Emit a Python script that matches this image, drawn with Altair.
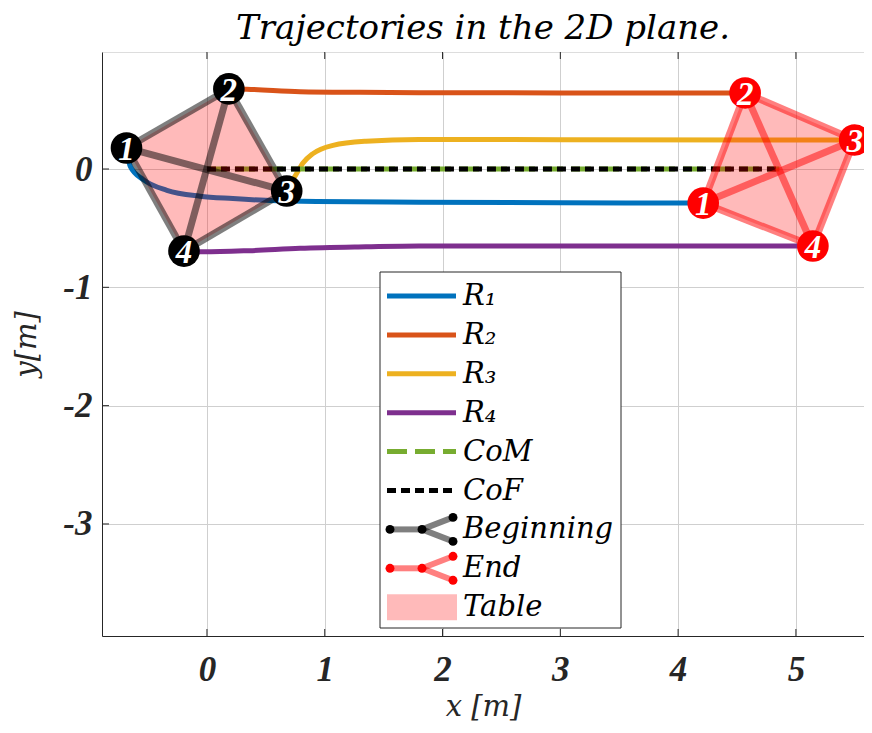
import altair as alt
import pandas as pd

# ---------------- data ----------------
robots = ["R1", "R2", "R3", "R4"]
robot_colors = ["#0072BD", "#D95319", "#EDB120", "#7E2F8E"]

r1_x = [-0.683, -0.65, -0.54, -0.34, -0.06, 0.22, 0.50, 0.93, 1.80, 3.00, 4.213]
r1_y = [0.178, 0.02, -0.09, -0.18, -0.23, -0.25, -0.265, -0.275, -0.28, -0.285, -0.288]
r2_x = [0.186, 0.34, 0.79, 1.30, 1.80, 3.00, 4.569]
r2_y = [0.677, 0.674, 0.654, 0.648, 0.645, 0.643, 0.643]
r3_x = [0.677, 0.76, 0.815, 0.90, 1.07, 1.35, 1.80, 3.00, 5.499]
r3_y = [-0.186, -0.04, 0.05, 0.13, 0.20, 0.235, 0.25, 0.248, 0.245]
r4_x = [-0.195, -0.03, 0.36, 0.79, 1.35, 1.80, 3.00, 5.144]
r4_y = [-0.694, -0.70, -0.69, -0.67, -0.657, -0.65, -0.651, -0.651]

center_x = [0.0, 4.86]
center_y = [0.0, 0.0]

robot_ids = ["1", "2", "3", "4"]
start_x = [-0.683, 0.186, 0.677, -0.195]
start_y = [0.178, 0.677, -0.186, -0.694]
end_x = [4.213, 4.569, 5.499, 5.144]
end_y = [-0.288, 0.643, 0.245, -0.651]
edges = [(1, 2), (2, 3), (3, 4), (4, 1), (1, 3), (2, 4)]

x_ticks = [0, 1, 2, 3, 4, 5]
y_ticks = [-3, -2, -1, 0]

legend_labels = ["R₁", "R₂", "R₃", "R₄", "CoM", "CoF", "Beginning", "End", "Table"]

# ---------------- layout ----------------
W, H = 762, 584
xs = alt.Scale(domain=[-0.891, 5.578], nice=False, zero=False)
ys = alt.Scale(domain=[-3.947, 0.989], nice=False, zero=False)

LABEL_FONT = "Liberation Serif"
SERIF_IT = "DejaVu Serif"

xaxis = alt.Axis(values=x_ticks, title="x [m]", grid=True, gridColor="#cfcfcf", gridWidth=1,
                 ticks=False, domainColor="#262626", domainWidth=1,
                 labelFont=LABEL_FONT, labelFontSize=35, labelFontStyle="italic",
                 labelFontWeight="bold", labelColor="#262626", labelPadding=16,
                 labelExpr="'' + datum.value",
                 titleFont=SERIF_IT, titleFontSize=29, titleFontStyle="italic",
                 titleFontWeight="normal", titleColor="#262626", titlePadding=5)
yaxis = alt.Axis(values=y_ticks, title="y[m]", grid=True, gridColor="#cfcfcf", gridWidth=1,
                 ticks=False, domainColor="#262626", domainWidth=1,
                 labelFont=LABEL_FONT, labelFontSize=35, labelFontStyle="italic",
                 labelFontWeight="bold", labelColor="#262626", labelPadding=10,
                 labelExpr="'' + datum.value",
                 titleFont=SERIF_IT, titleFontSize=29, titleFontStyle="italic",
                 titleFontWeight="normal", titleColor="#262626", titlePadding=21)


def X(f):
    return alt.X(f, type="quantitative", scale=xs, axis=xaxis)


def Y(f):
    return alt.Y(f, type="quantitative", scale=ys, axis=yaxis)


# trajectories table
rows = []
for name, xv, yv in zip(robots, [r1_x, r2_x, r3_x, r4_x], [r1_y, r2_y, r3_y, r4_y]):
    for i, (a, b) in enumerate(zip(xv, yv)):
        rows.append({"robot": name, "i": i, "x": a, "y": b})
traj_df = pd.DataFrame(rows)
center_df = pd.DataFrame({"x": center_x, "y": center_y, "i": [0, 1]})


def poly_df(px, py):
    return pd.DataFrame({"x": px, "y": py, "i": list(range(len(px)))})


def edge_df(px, py):
    r = []
    for k, (a, b) in enumerate(edges):
        r.append({"e": k, "i": 0, "x": px[a - 1], "y": py[a - 1]})
        r.append({"e": k, "i": 1, "x": px[b - 1], "y": py[b - 1]})
    return pd.DataFrame(r)


def node_df(px, py):
    return pd.DataFrame({"x": px, "y": py, "lab": robot_ids})


traj = alt.Chart(traj_df).mark_line(strokeWidth=5, strokeCap="butt", interpolate="monotone").encode(
    x=X("x"), y=Y("y"),
    color=alt.Color("robot:N", scale=alt.Scale(domain=robots, range=robot_colors), legend=None),
    detail="robot:N", order="i:Q")

com = alt.Chart(center_df).mark_line(strokeWidth=5, color="#77AC30", strokeDash=[20, 8]).encode(
    x=X("x"), y=Y("y"), order="i:Q")
cof = alt.Chart(center_df).mark_line(strokeWidth=5, color="#000000", strokeDash=[9, 5]).encode(
    x=X("x"), y=Y("y"), order="i:Q")


def formation(px, py, edge_color, node_color):
    fill = alt.Chart(poly_df(px, py)).mark_line(
        fill="#ff0000", fillOpacity=0.27, strokeOpacity=0, interpolate="linear-closed").encode(
        x=X("x"), y=Y("y"), order="i:Q")
    edg = alt.Chart(edge_df(px, py)).mark_line(
        color=edge_color, opacity=0.5, strokeWidth=7, strokeCap="butt").encode(
        x=X("x"), y=Y("y"), detail="e:N", order="i:Q")
    nodes = alt.Chart(node_df(px, py)).mark_circle(size=1000, color=node_color, opacity=1).encode(
        x=X("x"), y=Y("y"))
    labs = alt.Chart(node_df(px, py)).mark_text(
        color="white", font=LABEL_FONT, fontSize=33, fontStyle="italic", fontWeight="bold",
        baseline="middle", align="center", dy=2).encode(x=X("x"), y=Y("y"), text="lab:N")
    return [fill, edg, nodes, labs]


# inward ticks
tick_col = "#262626"
xt = pd.DataFrame({"t": x_ticks})
yt = pd.DataFrame({"t": y_ticks})
ticks_bottom = alt.Chart(xt).mark_rule(color=tick_col, strokeWidth=1).encode(
    x=X("t"), y=alt.value(H - 7), y2=alt.value(H))
ticks_top = alt.Chart(xt).mark_rule(color=tick_col, strokeWidth=1).encode(
    x=X("t"), y=alt.value(0), y2=alt.value(7))
ticks_left = alt.Chart(yt).mark_rule(color=tick_col, strokeWidth=1).encode(
    y=Y("t"), x=alt.value(0), x2=alt.value(7))

# ---------------- legend (pixel layout inside plot area) ----------------
one = pd.DataFrame({"k": [0]})
LX0, LX1 = 285, 354
TX = 361
row_y = [244 + k * 38.9 for k in range(len(legend_labels))]
leg = []
leg.append(alt.Chart(one).mark_rect(fill="white", stroke="#262626", strokeWidth=1).encode(
    x=alt.value(278), x2=alt.value(519), y=alt.value(220), y2=alt.value(576)))
line_styles = [(robot_colors[0], None), (robot_colors[1], None), (robot_colors[2], None),
               (robot_colors[3], None), ("#77AC30", [20, 8]), ("#000000", [9, 5])]
for k, (c, d) in enumerate(line_styles):
    kw = dict(color=c, strokeWidth=5)
    if d:
        kw["strokeDash"] = d
    leg.append(alt.Chart(one).mark_rule(**kw).encode(
        x=alt.value(LX0), x2=alt.value(LX1), y=alt.value(row_y[k])))


def tree_icon(yc, color):
    out = []
    segs = [((288, yc), (320, yc)), ((320, yc), (351, yc - 12)), ((320, yc), (351, yc + 12))]
    for (a, b) in segs:
        out.append(alt.Chart(one).mark_rule(color=color, opacity=0.5, strokeWidth=6).encode(
            x=alt.value(a[0]), x2=alt.value(b[0]), y=alt.value(a[1]), y2=alt.value(b[1])))
    for p in [(288, yc), (320, yc), (351, yc - 12), (351, yc + 12)]:
        out.append(alt.Chart(one).mark_point(filled=True, size=80, color=color, opacity=1).encode(
            x=alt.value(p[0]), y=alt.value(p[1])))
    return out


leg += tree_icon(row_y[6], "#000000")
leg += tree_icon(row_y[7], "#ff0000")
leg.append(alt.Chart(one).mark_rect(fill="#ff0000", opacity=0.27).encode(
    x=alt.value(LX0), x2=alt.value(LX1 + 1), y=alt.value(row_y[8] - 13), y2=alt.value(row_y[8] + 13)))
for k, lab in enumerate(legend_labels):
    leg.append(alt.Chart(one).mark_text(
        text=lab, font=SERIF_IT, fontSize=29, fontStyle="italic", color="#000000",
        align="left", baseline="middle").encode(x=alt.value(TX), y=alt.value(row_y[k])))

layers = [traj, com, cof] + formation(start_x, start_y, "#000000", "#000000") \
    + formation(end_x, end_y, "#ff0000", "#ff0000") + [ticks_bottom, ticks_top, ticks_left] + leg

chart = alt.layer(*layers).properties(
    width=W, height=H,
    title=alt.TitleParams("Trajectories in the 2D plane.", font=SERIF_IT, fontSize=34,
                          fontStyle="italic", fontWeight="normal", anchor="middle",
                          color="#000000", offset=6),
    autosize=alt.AutoSizeParams(type="none"),
    padding={"left": 94, "top": 44, "right": 0, "bottom": 89},
).configure_view(stroke=None).configure(background="white")

chart.save("out.html", embed_options={"renderer": "svg", "actions": False})
